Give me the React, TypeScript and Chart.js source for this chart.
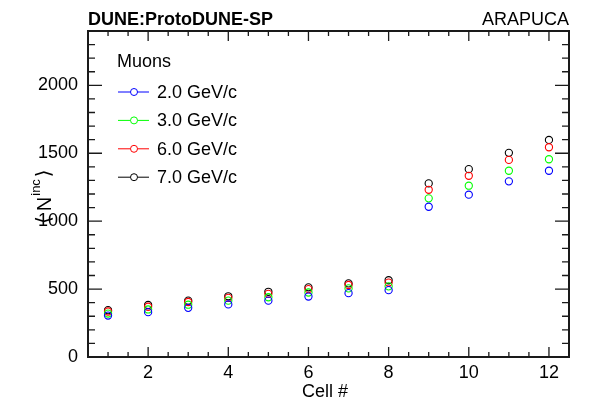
import React, { useEffect, useRef } from "react";
import { Chart, registerables } from "chart.js";

Chart.register(...registerables);

const CELLS = [1, 2, 3, 4, 5, 6, 7, 8, 9, 10, 11, 12];
const MU_2GEV = [305, 330, 362, 387, 415, 445, 470, 492, 1106, 1195, 1293, 1371];
const MU_3GEV = [320, 350, 385, 415, 440, 475, 505, 520, 1168, 1261, 1371, 1456];
const MU_6GEV = [335, 370, 405, 435, 465, 500, 530, 548, 1231, 1334, 1451, 1544];
const MU_7GEV = [345, 383, 415, 447, 480, 513, 542, 565, 1278, 1383, 1503, 1598];

const SERIES_LABELS = ["2.0 GeV/c", "3.0 GeV/c", "6.0 GeV/c", "7.0 GeV/c"];
const SERIES_COLORS = ["#0000ff", "#00ff00", "#ff0000", "#000000"];
const SERIES_VALUES = [MU_2GEV, MU_3GEV, MU_6GEV, MU_7GEV];

const X_TICKS = [2, 4, 6, 8, 10, 12];
const Y_TICKS = [0, 500, 1000, 1500, 2000];
const X_MIN = 0.5;
const X_MAX = 12.5;
const Y_MIN = 0;
const Y_MAX = 2400;

const TITLE_LEFT = "DUNE:ProtoDUNE-SP";
const TITLE_RIGHT = "ARAPUCA";
const X_TITLE = "Cell #";
const LEGEND_HEADER = "Muons";

const FONT = "'Liberation Sans', Arial, Helvetica, sans-serif";

const framePlugin = {
  id: "rootFrame",
  afterDraw(chart: any) {
    const ctx = chart.ctx as CanvasRenderingContext2D;
    const { left, right, top, bottom } = chart.chartArea;
    const xs = chart.scales.x;
    const ys = chart.scales.y;
    ctx.save();
    ctx.strokeStyle = "#1a1a1a";
    // ticks
    ctx.lineWidth = 1.3;
    ctx.beginPath();
    for (let v = 1; v <= 12; v += 0.5) {
      const px = xs.getPixelForValue(v);
      const len = X_TICKS.includes(v) ? 10 : 5;
      ctx.moveTo(px, bottom);
      ctx.lineTo(px, bottom - len);
      ctx.moveTo(px, top);
      ctx.lineTo(px, top + len);
    }
    for (let v = 100; v < Y_MAX; v += 100) {
      const py = ys.getPixelForValue(v);
      const len = Y_TICKS.includes(v) ? 14 : 7;
      ctx.moveTo(left, py);
      ctx.lineTo(left + len, py);
      ctx.moveTo(right, py);
      ctx.lineTo(right - len, py);
    }
    ctx.stroke();
    // frame
    ctx.lineWidth = 2;
    ctx.strokeRect(left, top, right - left, bottom - top);

    // titles
    ctx.fillStyle = "#000";
    ctx.textBaseline = "alphabetic";
    ctx.font = `bold 18px ${FONT}`;
    ctx.textAlign = "left";
    ctx.fillText(TITLE_LEFT, left, 25);
    ctx.font = `18px ${FONT}`;
    ctx.textAlign = "right";
    ctx.fillText(TITLE_RIGHT, right, 25);

    // x title
    ctx.textAlign = "center";
    ctx.fillText(X_TITLE, 325, 397);

    // y title  < N^inc >
    ctx.save();
    ctx.translate(51, 224);
    ctx.rotate(-Math.PI / 2);
    ctx.textAlign = "left";
    let u = 0;
    ctx.font = `20px 'DejaVu Sans', ${FONT}`;
    ctx.fillText("\u27E8", u, -1);
    u += ctx.measureText("\u27E8").width + 5;
    ctx.font = `20px ${FONT}`;
    ctx.fillText("N", u, 0);
    u += ctx.measureText("N").width + 1;
    ctx.font = `13px ${FONT}`;
    ctx.fillText("inc", u, -11);
    u += ctx.measureText("inc").width + 2;
    ctx.font = `20px 'DejaVu Sans', ${FONT}`;
    ctx.fillText("\u27E9", u, -1);
    ctx.restore();

    // legend
    ctx.font = `18px ${FONT}`;
    ctx.textAlign = "left";
    ctx.textBaseline = "middle";
    ctx.fillText(LEGEND_HEADER, 117, 62);
    const ds = chart.data.datasets;
    for (let i = 0; i < ds.length; i++) {
      const y = 92 + i * 28.4;
      const color = ds[i].borderColor;
      ctx.strokeStyle = color;
      ctx.lineWidth = 1;
      ctx.beginPath();
      ctx.moveTo(118, y);
      ctx.lineTo(130.5, y);
      ctx.moveTo(137.5, y);
      ctx.lineTo(149, y);
      ctx.stroke();
      ctx.beginPath();
      ctx.arc(134, y, 3.5, 0, Math.PI * 2);
      ctx.stroke();
      ctx.fillStyle = "#000";
      ctx.fillText(ds[i].label, 157, y + 1);
    }
    ctx.restore();
  },
};

export default function App() {
  const ref = useRef<HTMLCanvasElement | null>(null);
  useEffect(() => {
    document.body.style.margin = "0";
    const canvas = ref.current;
    if (!canvas) return;
    const chart = new Chart(canvas, {
      type: "scatter",
      data: {
        datasets: SERIES_VALUES.map((vals, i) => ({
          label: SERIES_LABELS[i],
          data: CELLS.map((c, j) => ({ x: c, y: vals[j] })),
          borderColor: SERIES_COLORS[i],
          backgroundColor: "rgba(0,0,0,0)",
          pointRadius: 3.6,
          pointBorderWidth: 1.1,
          pointStyle: "circle",
          showLine: false,
        })),
      },
      options: {
        responsive: false,
        animation: false,
        devicePixelRatio: 1,
        layout: { padding: { top: 31, right: 26, left: 0, bottom: 0 } },
        plugins: {
          legend: { display: false },
          tooltip: { enabled: false },
          title: { display: false },
        },
        scales: {
          x: {
            type: "linear",
            min: X_MIN,
            max: X_MAX,
            grid: { display: false, drawTicks: false },
            border: { display: false },
            afterBuildTicks: (s: any) => {
              s.ticks = X_TICKS.map((v) => ({ value: v }));
            },
            afterFit: (s: any) => {
              s.height = 44;
            },
            ticks: {
              padding: 5,
              color: "#000",
              maxRotation: 0,
              font: { family: FONT, size: 18 },
              callback: (v: any) => String(v),
            },
          },
          y: {
            type: "linear",
            min: Y_MIN,
            max: Y_MAX,
            grid: { display: false, drawTicks: false },
            border: { display: false },
            afterBuildTicks: (s: any) => {
              s.ticks = Y_TICKS.map((v) => ({ value: v }));
            },
            afterFit: (s: any) => {
              s.width = 88;
            },
            ticks: {
              padding: 10,
              color: "#000",
              font: { family: FONT, size: 18 },
              callback: (v: any) => String(v),
            },
          },
        },
      },
      plugins: [framePlugin],
    });
    return () => chart.destroy();
  }, []);
  return <canvas ref={ref} width={595} height={401} style={{ display: "block" }} />;
}
